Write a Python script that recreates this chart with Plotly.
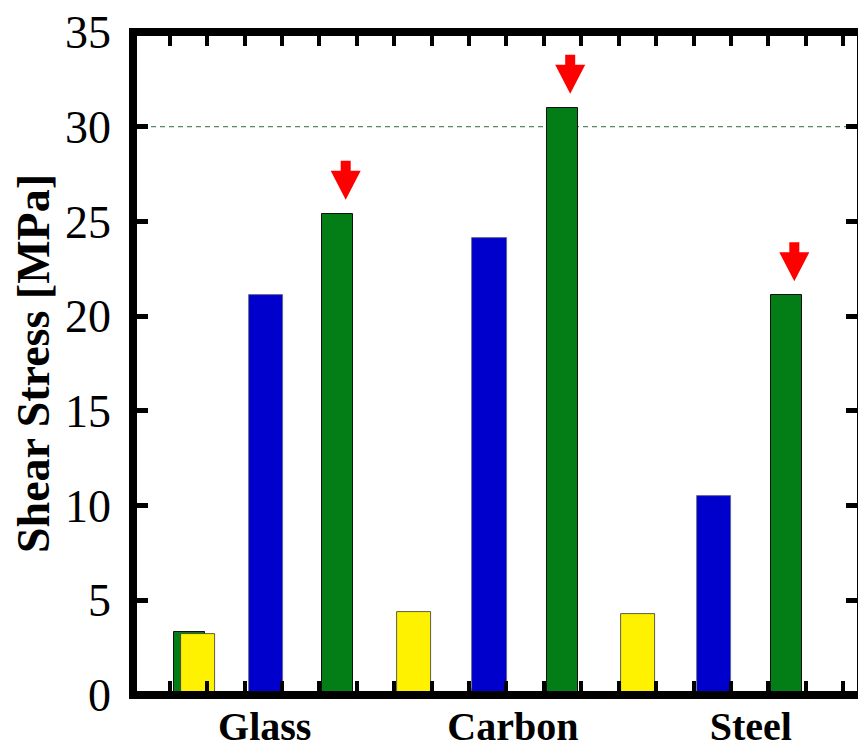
import plotly.graph_objects as go

# ---- data ----
categories = ["Glass", "Carbon", "Steel"]
yellow_vals = [3.2, 4.4, 4.3]
blue_vals = [21.1, 24.1, 10.5]
green_vals = [25.4, 31.0, 21.1]
green_back_vals = [3.3, 0.3]          # small green bars partly hidden (Glass, Carbon)
ref_value = 30
y_ticks = [0, 5, 10, 15, 20, 25, 30, 35]

# ---- layout positions (x units = minor tick spacing) ----
yellow_x = [0.75, 6.53, 12.51]
blue_x = [2.58, 8.55, 14.54]
green_x = [4.49, 10.49, 16.48]
green_back_x = [0.52, 8.50]
label_x = [2.54, 9.17, 15.53]

YELLOW = "#FFF200"
BLUE = "#0000CD"
GREEN = "#037D16"
RED = "#FF0000"
SERIF = "Liberation Serif, Times New Roman, Times, serif"

fig = go.Figure()
fig.add_trace(go.Bar(x=green_back_x, y=green_back_vals, width=0.83,
                     marker=dict(color=GREEN, line=dict(color="#111", width=1)),
                     showlegend=False))
fig.add_trace(go.Bar(x=yellow_x, y=yellow_vals, width=0.92,
                     marker=dict(color=YELLOW, line=dict(color="#333", width=0.8)),
                     showlegend=False))
fig.add_trace(go.Bar(x=blue_x, y=blue_vals, width=0.92,
                     marker=dict(color=BLUE, line=dict(color="#667", width=0.8)),
                     showlegend=False))
fig.add_trace(go.Bar(x=green_x, y=green_vals, width=0.82,
                     marker=dict(color=GREEN, line=dict(color="#111", width=1)),
                     showlegend=False))
# invisible helper traces so the extra (mirror / label) axes are drawn
fig.add_trace(go.Scatter(x=label_x, y=[0, 0, 0], xaxis="x2", yaxis="y", mode="markers",
                         marker=dict(opacity=0), hoverinfo="skip", showlegend=False))
fig.add_trace(go.Scatter(x=label_x, y=[0, 0, 0], xaxis="x3", yaxis="y2", mode="markers",
                         marker=dict(opacity=0), hoverinfo="skip", showlegend=False))

xr = [-0.981, 18.476]
yr = [0, 35]

shapes = [
    dict(type="line", xref="paper", yref="y", x0=0, x1=1, y0=ref_value, y1=ref_value,
         line=dict(color="#2f6b3a", width=1, dash="5px,4px"), layer="below"),
    dict(type="rect", xref="paper", yref="paper", x0=0, x1=1, y0=0, y1=1,
         line=dict(color="black", width=8), layer="above"),
]
arrow_path = "M 3,53 L 13,53 L 13,43 L 23,43 L 8,14 L -7,43 L 3,43 Z"
for xv, yv in zip(green_x, green_vals):
    shapes.append(dict(type="path", xref="x", yref="y", xsizemode="pixel", ysizemode="pixel",
                       xanchor=xv, yanchor=yv, path=arrow_path,
                       fillcolor=RED, line=dict(width=0), layer="above"))

xtick_common = dict(range=xr, showgrid=False, zeroline=False, showline=False,
                    tick0=0, dtick=1, ticks="inside", ticklen=14, tickwidth=4,
                    tickcolor="black", showticklabels=False, automargin=False)
ytick_common = dict(range=yr, showgrid=False, zeroline=False, showline=False,
                    tickvals=y_ticks, ticks="inside", ticklen=15, tickwidth=5,
                    tickcolor="black", automargin=False)

fig.update_layout(
    template="none",
    width=858, height=735,
    margin=dict(l=125, r=5, t=24, b=48, autoexpand=False),
    paper_bgcolor="white", plot_bgcolor="white",
    bargap=0, barmode="overlay",
    font=dict(family=SERIF, color="black"),
    xaxis=dict(**xtick_common, anchor="y", side="bottom"),
    xaxis3=dict(**xtick_common, anchor="y", side="top", overlaying="x"),
    xaxis2=dict(range=xr, overlaying="x", anchor="y", side="bottom",
                showgrid=False, zeroline=False, showline=False, ticks="",
                tickvals=label_x, ticktext=["<b>%s</b>" % c for c in categories],
                tickfont=dict(family=SERIF, size=40, color="black"),
                ticklabelstandoff=4, ticklabeloverflow="allow", automargin=False),
    yaxis=dict(**ytick_common, anchor="x", side="left",
               tickfont=dict(family=SERIF, size=46, color="black"),
               ticklabelstandoff=21, ticklabeloverflow="allow",
               title=dict(text="<b>Shear Stress [MPa]</b>", standoff=4,
                          font=dict(family=SERIF, size=46, color="black"))),
    yaxis2=dict(**ytick_common, anchor="x", side="right", overlaying="y",
                showticklabels=False),
    shapes=shapes,
)

fig.write_html("out.html")
